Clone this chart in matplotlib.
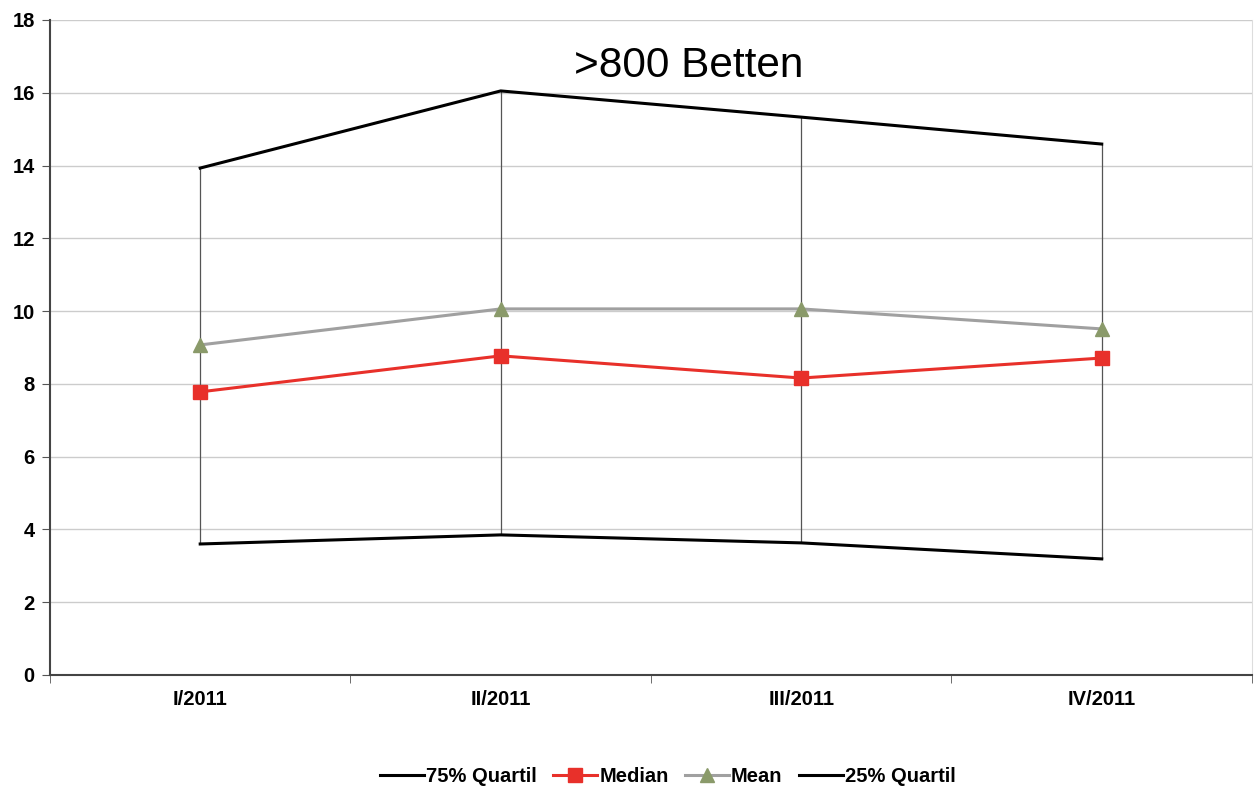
import matplotlib.pyplot as plt
import numpy as np

plt.rcParams['font.family'] = ['Liberation Sans', 'DejaVu Sans']

quarters = ['I/2011', 'II/2011', 'III/2011', 'IV/2011']
q75 = [13.93, 16.05, 15.33, 14.59]
median = [7.78, 8.77, 8.16, 8.71]
mean = [9.07, 10.06, 10.06, 9.51]
q25 = [3.60, 3.85, 3.63, 3.19]

x = np.arange(len(quarters))

fig = plt.figure(figsize=(12.55, 7.89), dpi=100)
ax = fig.add_axes([0.0398, 0.1445, 0.9578, 0.8302])

# high-low lines
ax.vlines(x, q25, q75, color='#555555', linewidth=0.9, zorder=2)

ax.plot(x, q75, color='black', linewidth=2.2, label='75% Quartil', zorder=3)
ax.plot(x, median, color='#e8302a', linewidth=2.2, marker='s', markersize=10,
        label='Median', zorder=4)
ax.plot(x, mean, color='#a0a0a0', linewidth=2.2, marker='^', markersize=10,
        markerfacecolor='#8a9a6a', markeredgecolor='#8a9a6a', label='Mean', zorder=4)
ax.plot(x, q25, color='black', linewidth=2.2, label='25% Quartil', zorder=3)

ax.set_xlim(-0.5, 3.5)
ax.set_ylim(0, 18)
ax.set_yticks(range(0, 19, 2))
ax.set_yticklabels([str(v) for v in range(0, 19, 2)], fontsize=14.5, fontweight='bold')
ax.yaxis.grid(True, color='#cccccc', linewidth=1)
ax.set_axisbelow(True)

ax.set_xticks(x)
ax.set_xticklabels(quarters, fontsize=14.5, fontweight='bold')
ax.tick_params(axis='x', which='major', length=0, pad=11)
ax.set_xticks(np.arange(-0.5, 3.6, 1), minor=True)
ax.tick_params(axis='x', which='minor', length=6, color='#555555', direction='out')
ax.tick_params(axis='y', length=6, color='#555555', pad=5)

ax.spines['top'].set_visible(False)
ax.spines['right'].set_color('#dddddd')
ax.spines['left'].set_color('#444444')
ax.spines['bottom'].set_color('#444444')
ax.spines['left'].set_linewidth(1.5)
ax.spines['bottom'].set_linewidth(1.5)

ax.text(0.531, 0.93, '>800 Betten', transform=ax.transAxes, ha='center', va='center',
        fontsize=30.5)

fig.legend(loc='center', bbox_to_anchor=(0.532, 0.016), ncol=4, frameon=False,
           prop={'size': 14.5, 'weight': 'bold'}, handlelength=2.2, handletextpad=0.1,
           columnspacing=0.8)

fig.savefig('out.png', dpi=100, facecolor='white')
